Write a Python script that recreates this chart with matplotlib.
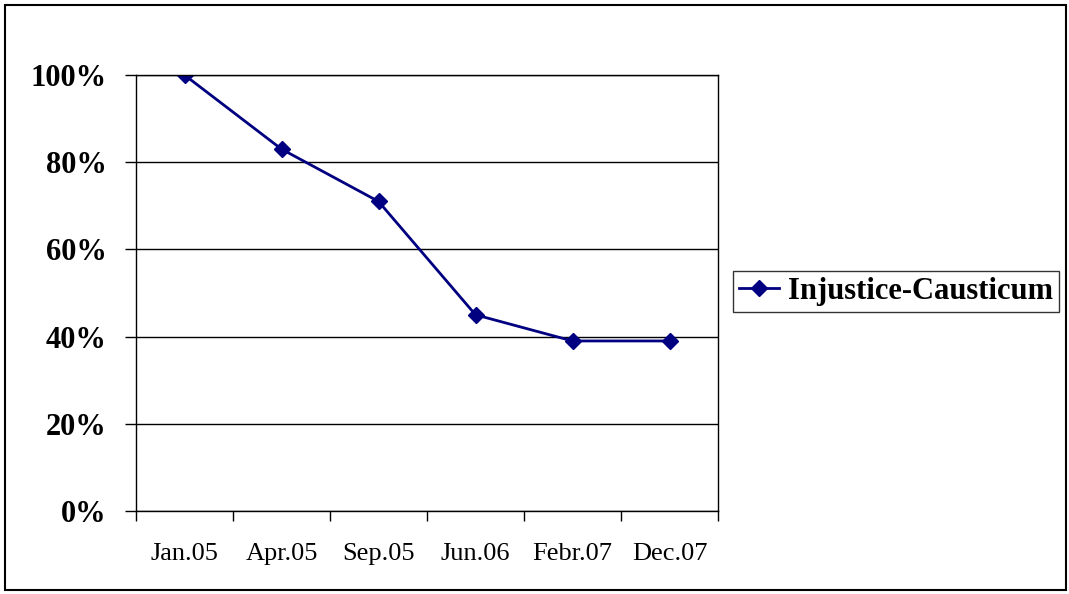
import matplotlib.pyplot as plt
from matplotlib.patches import Rectangle
from matplotlib.ticker import FixedLocator, PercentFormatter

months = ["Jan.05", "Apr.05", "Sep.05", "Jun.06", "Febr.07", "Dec.07"]
values = [100, 83, 71, 45, 39, 39]
series_name = "Injustice-Causticum"

plt.rcParams['font.family'] = ['Liberation Serif', 'DejaVu Serif']

fig = plt.figure(figsize=(10.69, 5.94), dpi=100)
ax = fig.add_axes([136 / 1069, 1 - 511 / 594, (718 - 136) / 1069, (511 - 75) / 594])

x = list(range(len(months)))
ax.plot(x, values, color="#000080", lw=2, marker="D", markersize=8,
        label=series_name)

ax.set_xlim(-0.5, len(months) - 0.5)
ax.set_ylim(0, 100)
ax.set_yticks(range(0, 101, 20))
ax.yaxis.set_major_formatter(PercentFormatter(decimals=0))
ax.grid(axis="y", color="black", lw=1)

ax.set_xticks(x)
ax.set_xticklabels(months)
ax.xaxis.set_minor_locator(FixedLocator([i - 0.5 for i in range(len(months) + 1)]))
ax.tick_params(axis="x", which="major", length=0, pad=23, labelsize=19)
ax.tick_params(axis="x", which="minor", length=7, width=1, color="black")
ax.tick_params(axis="y", length=8, width=1, pad=13, labelsize=22)
for lab in ax.get_yticklabels():
    lab.set_fontweight("bold")

for s in ax.spines.values():
    s.set_color("black")
    s.set_linewidth(1)

leg = fig.legend(loc="center left", bbox_to_anchor=(733 / 1069, 1 - 291.5 / 594),
                 frameon=True, fancybox=False, edgecolor="black", handlelength=1.3,
                 handletextpad=0.3, borderpad=0.2, borderaxespad=0,
                 prop={"weight": "bold", "size": 22})
leg.get_frame().set_linewidth(1)

fig.patches.append(Rectangle((5 / 1069, 4 / 594), 1061 / 1069, 585 / 594,
                             transform=fig.transFigure, fill=False,
                             edgecolor="black", lw=1.5))

fig.savefig("out.png", dpi=100)
